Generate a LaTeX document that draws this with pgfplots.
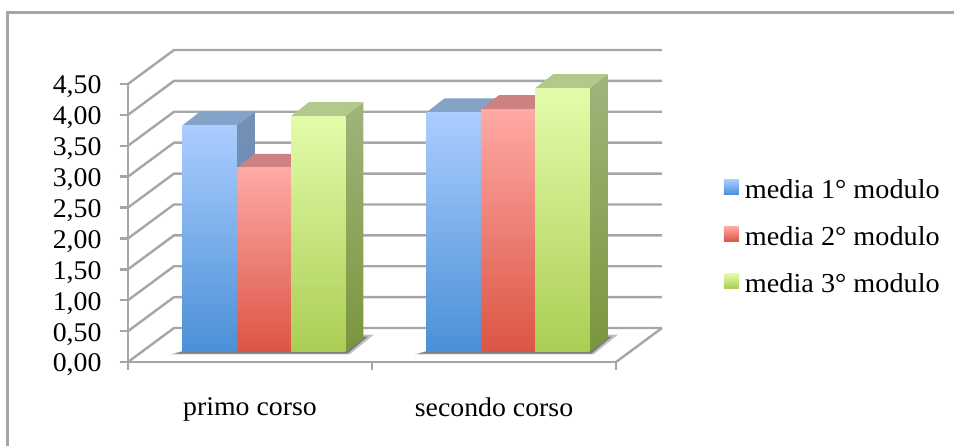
\documentclass[border=0pt]{standalone}
\usepackage{pgfplots}
\pgfplotsset{compat=1.18}
\usepackage{fontspec}
\setmainfont[FakeStretch=1.03]{Liberation Serif}

\definecolor{framegray}{HTML}{A6A6A6}
\definecolor{blueA}{HTML}{ABCDFF}\definecolor{blueB}{HTML}{4A90D6}
\definecolor{blueT}{HTML}{85A2C8}\definecolor{blueS}{HTML}{7590B5}\definecolor{blueD}{HTML}{5C86BF}
\definecolor{redA}{HTML}{FFA9A5}\definecolor{redB}{HTML}{DB5544}
\definecolor{redT}{HTML}{CC8280}\definecolor{redS}{HTML}{B87070}\definecolor{redD}{HTML}{A04A40}
\definecolor{greenA}{HTML}{E3FCAA}\definecolor{greenB}{HTML}{AACE54}
\definecolor{greenT}{HTML}{B3C98B}\definecolor{greenS}{HTML}{A0B47C}\definecolor{greenD}{HTML}{7A963C}

% Width of a bar and depth of the 3D extrusion, in axis units
\newcommand{\barw}{0.2225}
\newcommand{\depx}{0.0738}
\newcommand{\depy}{0.2265}

% One bar: centre position, value, colours (front top/bottom, top face, side top/bottom)
\newcommand{\solidbar}[7]{%
  \pgfmathsetmacro{\xa}{#1-\barw/2}%
  \pgfmathsetmacro{\xb}{#1+\barw/2}%
  \pgfmathsetmacro{\xc}{\xb+\depx}%
  \pgfmathsetmacro{\xd}{\xa+\depx}%
  \pgfmathsetmacro{\yt}{#2+\depy}%
  \addplot[forget plot,draw=none,top color=#6,bottom color=#7]
    coordinates {(\xb,0) (\xc,\depy) (\xc,\yt) (\xb,#2)} --cycle;
  \addplot[forget plot,draw=none,fill=#5]
    coordinates {(\xa,#2) (\xb,#2) (\xc,\yt) (\xd,\yt)} --cycle;
  \addplot[forget plot,ybar,bar width=54.3pt,bar shift=0pt,draw=none,
    top color=#3,bottom color=#4]
    coordinates {(#1,#2)};
}

% Ground shadow under a group of bars, soft outer part and darker inner part
\newcommand{\groundshadow}[1]{%
  \pgfmathsetmacro{\sa}{#1-0.385}%
  \pgfmathsetmacro{\sb}{#1+0.350}%
  \pgfmathsetmacro{\sc}{#1+0.450}%
  \pgfmathsetmacro{\sd}{#1-0.1}%
  \addplot[forget plot,draw=none,fill=black,fill opacity=0.25]
    coordinates {(\sa,-0.04) (\sb,-0.04) (\sc,0.28) (\sd,0.28)} --cycle;
  \pgfmathsetmacro{\sa}{#1-0.365}%
  \pgfmathsetmacro{\sb}{#1+0.342}%
  \pgfmathsetmacro{\sc}{#1+0.425}%
  \addplot[forget plot,draw=none,fill=black,fill opacity=0.35]
    coordinates {(\sa,-0.025) (\sb,-0.025) (\sc,0.25) (\sd,0.25)} --cycle;
}

% Square legend key with the vertical gradient of the bars; the empty path keeps the gap to the text
\newcommand{\gradientkey}[2]{%
  \addlegendimage{legend image code/.code={%
    \path[draw=none,top color=#1,bottom color=#2] (0pt,-2pt) rectangle (15pt,13pt);
    \path[draw=none] (21pt,0pt) -- (21pt,1pt);}}%
}

\begin{document}
\begin{tikzpicture}[x=1pt,y=1pt]
\useasboundingbox (0,0) rectangle (954,446);
% Outer chart frame
\draw[framegray,line width=2.4pt] (7.5,0) -- (7.5,433.5) -- (954,433.5);

% Axes, wall and floor lines
\begin{axis}[
  at={(128pt,84pt)},anchor=south west,
  scale only axis,width=488pt,height=278pt,
  xmin=0,xmax=2,ymin=0,ymax=4.5,
  clip=false,
  axis x line*=bottom,axis y line*=left,
  axis line style={framegray,line width=2.4pt,-},
  tick style={framegray,line width=2.4pt},
  major tick length=8pt,
  tick align=outside,
  xtick={0,1,2},xticklabels={},
  extra x ticks={0.5,1.5},
  extra x tick labels={primo corso,secondo corso},
  extra x tick style={major tick length=0pt,
    tick label style={yshift=-32pt}},
  ytick={0,0.5,...,4.5},
  yticklabel style={xshift=-15pt,yshift=-3pt,
    /pgf/number format/.cd,fixed,fixed zerofill,precision=2,use comma,assume math mode=true},
  tick label style={font=\fontsize{27}{30}\selectfont,text=black},
]
\pgfplotsinvokeforeach{0,0.5,1,1.5,2,2.5,3,3.5,4,4.5}{
  \pgfmathsetmacro{\ya}{#1+0.55}
  \addplot[forget plot,framegray,line width=2.4pt] coordinates {(0,#1) (0.1885,\ya) (2.1885,\ya)};
}
\addplot[forget plot,framegray,line width=2.4pt] coordinates {(2,0) (2.1885,0.55)};
\end{axis}

% Bars resting on the floor, same vertical scale as the axis
\begin{axis}[
  at={(142pt,94pt)},anchor=south west,
  scale only axis,width=488pt,height=278pt,
  xmin=0,xmax=2,ymin=0,ymax=4.5,
  hide axis,clip=false,
  legend style={draw=none,fill=none,at={(rel axis cs:1.1926,0.405)},anchor=west,
    font=\fontsize{27.4}{30}\selectfont,
    nodes={inner sep=0pt,text height=20pt,text depth=7pt},
    /tikz/row sep=20pt,
    inner sep=0pt,outer sep=0pt},
  legend cell align=left,
]
\groundshadow{0.5}
\groundshadow{1.5}
% primo corso
\solidbar{0.2775}{3.67}{blueA}{blueB}{blueT}{blueS}{blueD}
\solidbar{0.5}{2.98}{redA}{redB}{redT}{redS}{redD}
\solidbar{0.7225}{3.82}{greenA}{greenB}{greenT}{greenS}{greenD}
% secondo corso
\solidbar{1.2775}{3.88}{blueA}{blueB}{blueT}{blueS}{blueD}
\solidbar{1.5}{3.93}{redA}{redB}{redT}{redS}{redD}
\solidbar{1.7225}{4.27}{greenA}{greenB}{greenT}{greenS}{greenD}

\gradientkey{blueA}{blueB}
\addlegendentry{media 1° modulo}
\gradientkey{redA}{redB}
\addlegendentry{media 2° modulo}
\gradientkey{greenA}{greenB}
\addlegendentry{media 3° modulo}
\end{axis}
\end{tikzpicture}
\end{document}
